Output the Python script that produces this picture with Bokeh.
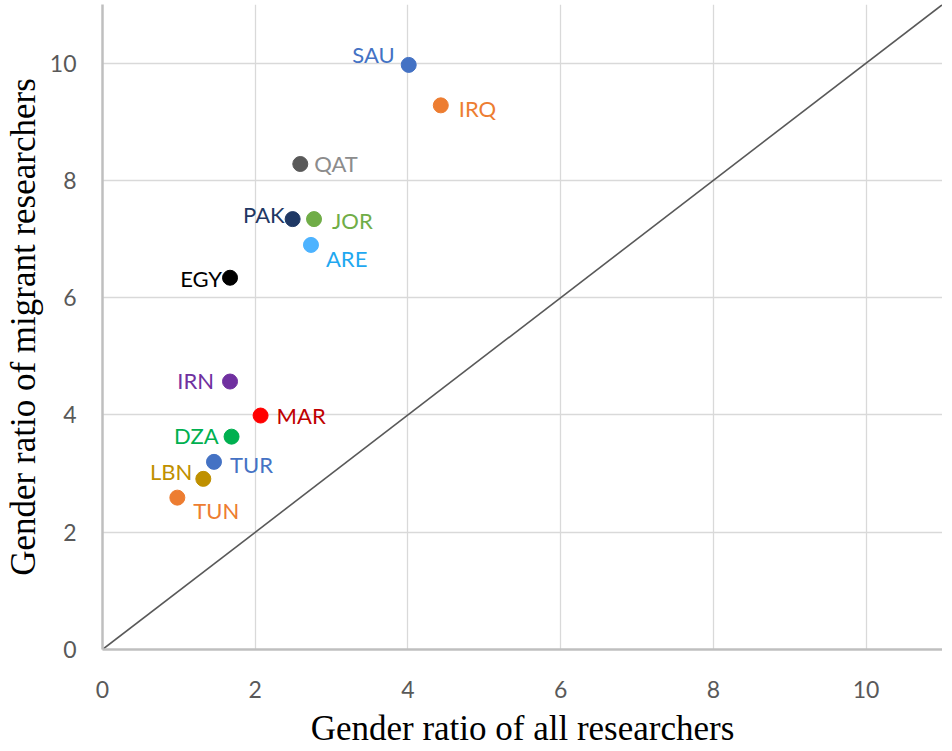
from bokeh.plotting import figure
from bokeh.models import ColumnDataSource, FixedTicker, Range1d
from bokeh.core.properties import value
from bokeh.embed import file_html
from bokeh.resources import INLINE

# ---- data ----
countries = ["SAU", "IRQ", "QAT", "PAK", "JOR", "ARE", "EGY", "IRN", "MAR", "DZA", "TUR", "LBN", "TUN"]
ratio_all = [4.01, 4.43, 2.59, 2.49, 2.77, 2.73, 1.67, 1.67, 2.07, 1.69, 1.46, 1.32, 0.98]
ratio_migrant = [9.97, 9.28, 8.28, 7.34, 7.34, 6.90, 6.34, 4.57, 3.99, 3.63, 3.20, 2.91, 2.59]
tick_values = [0, 2, 4, 6, 8, 10]
diag_x = [0, 11]
diag_y = [0, 11]

# ---- styles ----
dot_colors = ["#4472C4", "#ED7D31", "#595959", "#1F3864", "#70AD47", "#4DB3FF", "#000000",
              "#7030A0", "#FF0000", "#00B050", "#4472C4", "#BF9000", "#ED7D31"]
label_colors = ["#4472C4", "#ED7D31", "#8C8C8C", "#1F3864", "#70AD47", "#1FA8F0", "#000000",
                "#7030A0", "#C00000", "#00B050", "#4472C4", "#BF9000", "#ED7D31"]
label_align = ["right", "left", "left", "right", "left", "left", "right",
               "right", "left", "right", "left", "right", "left"]
label_dx = [-14, 18, 14, -8, 18, 15, -8, -16, 16, -13, 16, -11, 16]
label_dy = [-10, 3, 0, -5, 1, 14, 1, -1, 0, -1, 3, -7, 13]

src = ColumnDataSource(dict(x=ratio_all, y=ratio_migrant, name=countries,
                            dc=dot_colors, lc=label_colors, al=label_align,
                            dx=label_dx, dy=label_dy))

p = figure(frame_width=840, frame_height=645, output_backend="svg", toolbar_location=None,
           x_range=Range1d(0, 11), y_range=Range1d(0, 11),
           min_border_left=0, min_border_right=0, min_border_top=4, min_border_bottom=0)
p.outline_line_color = None
p.background_fill_color = "white"

# grid
for g in (p.xgrid, p.ygrid):
    g.ticker = FixedTicker(ticks=tick_values)
    g.grid_line_color = "#D9D9D9"
    g.grid_line_width = 1.3

for ax in (p.xaxis, p.yaxis):
    ax.ticker = FixedTicker(ticks=tick_values)
    ax.axis_line_color = "#BFBFBF"
    ax.axis_line_width = 2.5
    ax.major_tick_line_color = None
    ax.minor_tick_line_color = None
    ax.major_label_text_font = "Lato"
    ax.major_label_text_font_size = "23px"
    ax.major_label_text_color = "#595959"
    ax.axis_label_text_font = "Liberation Serif"
    ax.axis_label_text_font_size = "35px"
    ax.axis_label_text_font_style = "normal"
    ax.axis_label_text_color = "#000000"

p.xaxis.axis_label = "Gender ratio of all researchers"
p.yaxis.axis_label = "Gender ratio of migrant researchers"
p.xaxis.major_label_standoff = 25
p.xaxis.axis_label_standoff = 8
p.yaxis.major_label_standoff = 20
p.yaxis.axis_label_standoff = 4

# diagonal
p.line(diag_x, diag_y, line_color="#595959", line_width=1.6)

# points
p.scatter("x", "y", source=src, size=15, fill_color="dc", line_color="dc")

# labels
p.text("x", "y", text="name", source=src, text_color="lc", text_align="al",
       x_offset="dx", y_offset="dy", text_baseline="middle",
       text_font=value("Lato"), text_font_size="22px")

open("out.html", "w").write(file_html(p, INLINE))
